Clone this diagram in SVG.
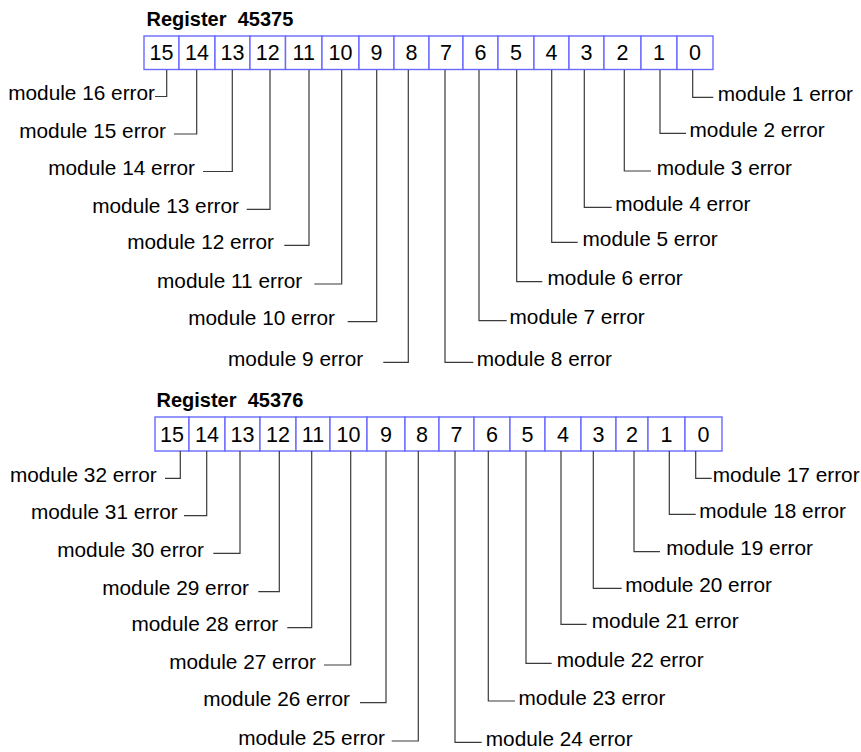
<svg xmlns="http://www.w3.org/2000/svg" width="861" height="752" viewBox="0 0 861 752">
<style>
.title{font-family:"Liberation Sans",Arial,sans-serif;font-size:20px;font-weight:bold;fill:#000;white-space:pre}
.cell rect{fill:#fff;stroke:#6a6aff;stroke-width:1.4}
.cell text{font-family:"Liberation Sans",Arial,sans-serif;font-size:21.5px;fill:#000;text-anchor:middle}
.lbl{font-family:"Liberation Sans",Arial,sans-serif;font-size:20.8px;fill:#000}
.l{text-anchor:end}
.r{text-anchor:start}
#connectors polyline{fill:none;stroke:#3a3a3a;stroke-width:1.2}
</style>
<rect width="861" height="752" fill="#fff"/>

<g id="register-45375">
<text class="title" x="146.5" y="26" xml:space="preserve">Register  45375</text>
<g id="r1-b15" class="cell"><rect x="144" y="36" width="35" height="33.5"/><text x="161.5" y="60">15</text></g>
<g id="r1-b14" class="cell"><rect x="179" y="36" width="36" height="33.5"/><text x="197" y="60">14</text></g>
<g id="r1-b13" class="cell"><rect x="215" y="36" width="35" height="33.5"/><text x="232.5" y="60">13</text></g>
<g id="r1-b12" class="cell"><rect x="250" y="36" width="35.5" height="33.5"/><text x="267.8" y="60">12</text></g>
<g id="r1-b11" class="cell"><rect x="285.5" y="36" width="36.5" height="33.5"/><text x="303.7" y="60">11</text></g>
<g id="r1-b10" class="cell"><rect x="322" y="36" width="37" height="33.5"/><text x="340.5" y="60">10</text></g>
<g id="r1-b9" class="cell"><rect x="359" y="36" width="35" height="33.5"/><text x="376.5" y="60">9</text></g>
<g id="r1-b8" class="cell"><rect x="394" y="36" width="35" height="33.5"/><text x="411.5" y="60">8</text></g>
<g id="r1-b7" class="cell"><rect x="429" y="36" width="34" height="33.5"/><text x="446" y="60">7</text></g>
<g id="r1-b6" class="cell"><rect x="463" y="36" width="35" height="33.5"/><text x="480.5" y="60">6</text></g>
<g id="r1-b5" class="cell"><rect x="498" y="36" width="36" height="33.5"/><text x="516" y="60">5</text></g>
<g id="r1-b4" class="cell"><rect x="534" y="36" width="35" height="33.5"/><text x="551.5" y="60">4</text></g>
<g id="r1-b3" class="cell"><rect x="569" y="36" width="35" height="33.5"/><text x="586.5" y="60">3</text></g>
<g id="r1-b2" class="cell"><rect x="604" y="36" width="37" height="33.5"/><text x="622.5" y="60">2</text></g>
<g id="r1-b1" class="cell"><rect x="641" y="36" width="36" height="33.5"/><text x="659" y="60">1</text></g>
<g id="r1-b0" class="cell"><rect x="677" y="36" width="36" height="33.5"/><text x="695" y="60">0</text></g>
</g>

<g id="register-45376">
<text class="title" x="156.5" y="407" xml:space="preserve">Register  45376</text>
<g id="r2-b15" class="cell"><rect x="155" y="417" width="34" height="34"/><text x="172" y="441.5">15</text></g>
<g id="r2-b14" class="cell"><rect x="189" y="417" width="36" height="34"/><text x="207" y="441.5">14</text></g>
<g id="r2-b13" class="cell"><rect x="225" y="417" width="35" height="34"/><text x="242.5" y="441.5">13</text></g>
<g id="r2-b12" class="cell"><rect x="260" y="417" width="36" height="34"/><text x="278" y="441.5">12</text></g>
<g id="r2-b11" class="cell"><rect x="296" y="417" width="34" height="34"/><text x="313" y="441.5">11</text></g>
<g id="r2-b10" class="cell"><rect x="330" y="417" width="37" height="34"/><text x="348.5" y="441.5">10</text></g>
<g id="r2-b9" class="cell"><rect x="367" y="417" width="38" height="34"/><text x="386" y="441.5">9</text></g>
<g id="r2-b8" class="cell"><rect x="405" y="417" width="34" height="34"/><text x="422" y="441.5">8</text></g>
<g id="r2-b7" class="cell"><rect x="439" y="417" width="35" height="34"/><text x="456.5" y="441.5">7</text></g>
<g id="r2-b6" class="cell"><rect x="474" y="417" width="36" height="34"/><text x="492" y="441.5">6</text></g>
<g id="r2-b5" class="cell"><rect x="510" y="417" width="35" height="34"/><text x="527.5" y="441.5">5</text></g>
<g id="r2-b4" class="cell"><rect x="545" y="417" width="36" height="34"/><text x="563" y="441.5">4</text></g>
<g id="r2-b3" class="cell"><rect x="581" y="417" width="35" height="34"/><text x="598.5" y="441.5">3</text></g>
<g id="r2-b2" class="cell"><rect x="616" y="417" width="32" height="34"/><text x="632" y="441.5">2</text></g>
<g id="r2-b1" class="cell"><rect x="648" y="417" width="37" height="34"/><text x="666.5" y="441.5">1</text></g>
<g id="r2-b0" class="cell"><rect x="685" y="417" width="37" height="34"/><text x="703.5" y="441.5">0</text></g>
</g>

<g id="connectors">
<polyline points="155,96.5 166.7,96.5 166.7,70"/>
<polyline points="174,134 196.7,134 196.7,70"/>
<polyline points="203,171.5 232.3,171.5 232.3,70"/>
<polyline points="246.7,209.3 270,209.3 270,70"/>
<polyline points="284.3,245.3 309,245.3 309,70"/>
<polyline points="314.3,284 341.7,284 341.7,70"/>
<polyline points="347.7,321.7 376.7,321.7 376.7,70"/>
<polyline points="383.3,362.3 408.3,362.3 408.3,70"/>
<polyline points="692.7,70 692.7,97.3 713.3,97.3"/>
<polyline points="660,70 660,133.3 686,133.3"/>
<polyline points="624.3,70 624.3,171 651,171"/>
<polyline points="584.3,70 584.3,207.3 611.7,207.3"/>
<polyline points="551.7,70 551.7,242.3 577.7,242.3"/>
<polyline points="516.7,70 516.7,281.7 542.3,281.7"/>
<polyline points="479,70 479,320.7 506.7,320.7"/>
<polyline points="445,70 445,362.3 473.3,362.3"/>

<polyline points="165,478.3 180.3,478.3 180.3,451"/>
<polyline points="184,515.7 206.7,515.7 206.7,451"/>
<polyline points="213.3,553.3 240,553.3 240,451"/>
<polyline points="258.3,591.7 279.3,591.7 279.3,451"/>
<polyline points="287.3,627.7 311.7,627.7 311.7,451"/>
<polyline points="324,665 350.7,665 350.7,451"/>
<polyline points="360,702.7 386,702.7 386,451"/>
<polyline points="391.7,741 418.3,741 418.3,451"/>
<polyline points="695.7,451 695.7,478.3 711.7,478.3"/>
<polyline points="669.3,451 669.3,514.3 695.7,514.3"/>
<polyline points="634,451 634,551.7 660,551.7"/>
<polyline points="593.3,451 593.3,588.3 621.7,588.3"/>
<polyline points="561,451 561,624.3 586.7,624.3"/>
<polyline points="526,451 526,663.3 551.7,663.3"/>
<polyline points="488.3,451 488.3,701 515,701"/>
<polyline points="455,451 455,742.3 481.7,742.3"/>
</g>

<g id="label-m16"><text class="lbl l" x="155" y="100">module 16 error</text></g>
<g id="label-m15"><text class="lbl l" x="166" y="137.5">module 15 error</text></g>
<g id="label-m14"><text class="lbl l" x="195" y="175">module 14 error</text></g>
<g id="label-m13"><text class="lbl l" x="239" y="212.8">module 13 error</text></g>
<g id="label-m12"><text class="lbl l" x="274" y="248.8">module 12 error</text></g>
<g id="label-m11"><text class="lbl l" x="302.3" y="287.5">module 11 error</text></g>
<g id="label-m10"><text class="lbl l" x="335" y="325.2">module 10 error</text></g>
<g id="label-m9"><text class="lbl l" x="363.3" y="365.8">module 9 error</text></g>
<g id="label-m1"><text class="lbl r" x="717.8" y="100.8">module 1 error</text></g>
<g id="label-m2"><text class="lbl r" x="689.5" y="136.8">module 2 error</text></g>
<g id="label-m3"><text class="lbl r" x="656.8" y="174.5">module 3 error</text></g>
<g id="label-m4"><text class="lbl r" x="615.2" y="210.8">module 4 error</text></g>
<g id="label-m5"><text class="lbl r" x="582.5" y="245.8">module 5 error</text></g>
<g id="label-m6"><text class="lbl r" x="547.5" y="285.2">module 6 error</text></g>
<g id="label-m7"><text class="lbl r" x="509.5" y="324.2">module 7 error</text></g>
<g id="label-m8"><text class="lbl r" x="476.8" y="365.8">module 8 error</text></g>

<g id="label-m32"><text class="lbl l" x="156.7" y="481.8">module 32 error</text></g>
<g id="label-m31"><text class="lbl l" x="177.7" y="519.2">module 31 error</text></g>
<g id="label-m30"><text class="lbl l" x="204" y="556.8">module 30 error</text></g>
<g id="label-m29"><text class="lbl l" x="249" y="595.2">module 29 error</text></g>
<g id="label-m28"><text class="lbl l" x="278.3" y="631.2">module 28 error</text></g>
<g id="label-m27"><text class="lbl l" x="316" y="668.5">module 27 error</text></g>
<g id="label-m26"><text class="lbl l" x="350" y="706.2">module 26 error</text></g>
<g id="label-m25"><text class="lbl l" x="385" y="744.5">module 25 error</text></g>
<g id="label-m17"><text class="lbl r" x="712.8" y="481.8">module 17 error</text></g>
<g id="label-m18"><text class="lbl r" x="699.2" y="517.8">module 18 error</text></g>
<g id="label-m19"><text class="lbl r" x="666.2" y="555.2">module 19 error</text></g>
<g id="label-m20"><text class="lbl r" x="625.2" y="591.8">module 20 error</text></g>
<g id="label-m21"><text class="lbl r" x="591.8" y="627.8">module 21 error</text></g>
<g id="label-m22"><text class="lbl r" x="556.8" y="666.8">module 22 error</text></g>
<g id="label-m23"><text class="lbl r" x="518.5" y="704.5">module 23 error</text></g>
<g id="label-m24"><text class="lbl r" x="485.8" y="745.8">module 24 error</text></g>
</svg>
